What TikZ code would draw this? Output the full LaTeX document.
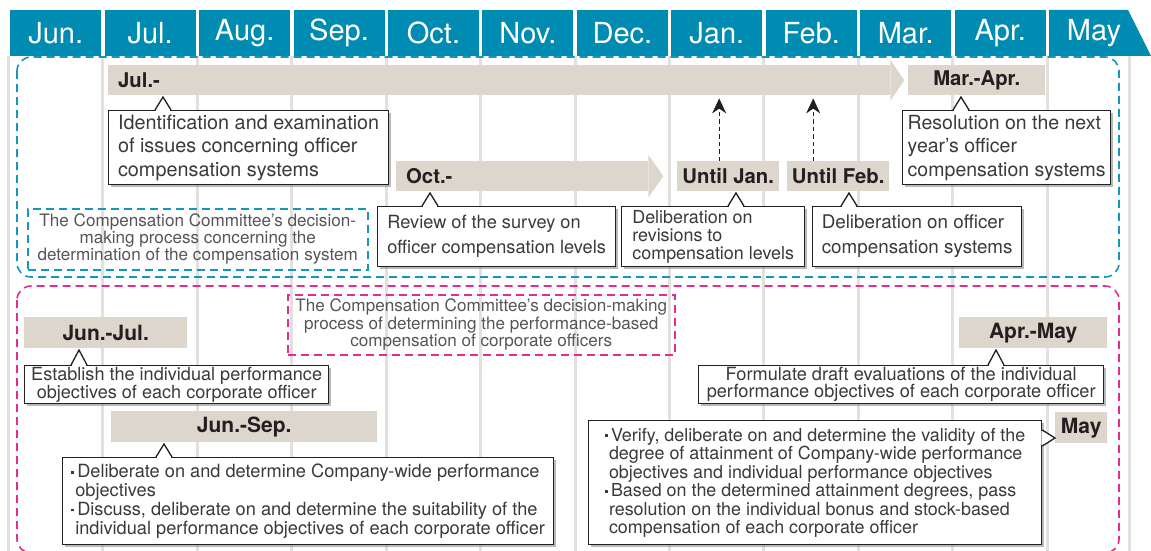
\documentclass[tikz,border=0pt]{standalone}
\usepackage{fontspec}
\setmainfont{TeX Gyre Heros}
\usetikzlibrary{positioning,shadows,arrows.meta}

\definecolor{hdrblue}{RGB}{0,140,178}
\definecolor{barbeige}{RGB}{221,214,204}
\definecolor{gridgray}{RGB}{228,224,221}
\definecolor{frameblue}{RGB}{20,150,190}
\definecolor{framepink}{RGB}{225,45,140}
\definecolor{inkdark}{RGB}{35,31,32}
\definecolor{inklight}{RGB}{58,58,58}
\definecolor{inkgray}{RGB}{85,85,85}

\newcommand{\fs}[2]{\fontsize{#1}{#2}\selectfont}
\newcommand{\bul}{\makebox[6pt][l]{\raisebox{4pt}{\rule{2.8pt}{2.8pt}}}}
\newcommand{\cont}{\hspace*{4pt}}
% pointer of a callout: #1 box node, #2 tip coordinate
\newcommand{\tipup}[2]{%
    \fill[white] ([xshift=-7.2pt,yshift=-1pt]#2 |- #1.north) -- (#2) -- ([xshift=7.2pt,yshift=-1pt]#2 |- #1.north) -- cycle;
    \draw[tipline] ([xshift=-8pt]#2 |- #1.north) -- (#2) -- ([xshift=8pt]#2 |- #1.north);}
\newcommand{\tipright}[2]{%
    \fill[white] ([xshift=-1pt,yshift=-7.2pt]#2 -| #1.east) -- (#2) -- ([xshift=-1pt,yshift=7.2pt]#2 -| #1.east) -- cycle;
    \draw[tipline] ([yshift=-8pt]#2 -| #1.east) -- (#2) -- ([yshift=8pt]#2 -| #1.east);}

\tikzset{
    month/.style={fill=hdrblue,text=white,font=\fs{29}{30},minimum width=91pt,minimum height=46pt,inner sep=0pt,anchor=north west},
    period/.style={fill=barbeige,text=inkdark,font=\bfseries\fs{20.3}{22},minimum height=30pt,inner sep=0pt,anchor=north west},
    callbox/.style={draw=inkdark,line width=1.3pt,fill=white,text=inklight,inner sep=0pt,anchor=north west,align=left,
        drop shadow={shadow xshift=2.5pt,shadow yshift=-2.5pt,fill=black!50,opacity=0.55}},
    tipline/.style={draw=inkdark,line width=1.3pt},
    tagbox/.style={dash pattern=on 8pt off 5pt,line width=1.5pt,text=inkgray,inner sep=0pt,anchor=north west,align=center},
    region/.style={dash pattern=on 8pt off 5pt,line width=1.6pt,rounded corners=14pt},
    gridline/.style={gridgray,line width=3pt},
    dasharrow/.style={inkdark,dash pattern=on 4.5pt off 3pt,line width=1.3pt,-{Stealth[length=15pt,width=14pt]}}
}

\begin{document}
\begin{tikzpicture}[x=1pt,y=-1pt]
        \useasboundingbox (0,0) rectangle (1151,551);
        \clip (0,0) rectangle (1151,551);
        \foreach \i in {0,...,11}
            \draw[gridline] ({8.3+94.45*\i},56) -- ++(0,495);
        \draw[gridline] (1129,56) -- (1129,551);
        \foreach \m [count=\i from 0] in {Jun.,Jul.,Aug.,Sep.,Oct.,Nov.,Dec.,Jan.,Feb.,Mar.,Apr.}
            \node[month] (m\i) at ({10+94.45*\i},10) {\m};
        \fill[hdrblue] (1049,10) -- (1128,10) -- (1151,56) -- (1049,56) -- cycle;
        \node[text=white,font=\fs{29}{30},inner sep=0pt] (m11) at (1094,33) {May};

        \draw[region,frameblue] (17,57) rectangle (1119,277);
        \draw[region,framepink] (17,286) rectangle (1119,553);
        \node[tagbox,draw=frameblue,minimum width=340pt,minimum height=61pt,font=\fs{17.1}{17}] (systag) at (27,208)
            {The Compensation Committee’s decision-\\making process concerning the\\determination of the compensation system};
        \node[tagbox,draw=framepink,minimum width=387pt,minimum height=60pt,font=\fs{17.1}{17.5}] (perftag) at (287,294)
            {The Compensation Committee’s decision-making\\process of determining the performance-based\\compensation of corporate officers};

        % compensation system
        \node[period,minimum width=782pt,text width=762pt,align=left] (julbar) at (108,65) {Jul.-};
        \fill[barbeige] ([yshift=5pt]julbar.north east) -- ([xshift=14pt]julbar.east) -- ([yshift=-5pt]julbar.south east) -- cycle;
        \node[period,minimum width=137pt] (marapr) at (908,65) {Mar.-Apr.};
        \node[period,minimum width=252pt,text width=232pt,align=left] (octbar) at (396,161) {Oct.-};
        \fill[barbeige] ([yshift=6pt]octbar.north east) -- ([xshift=15pt]octbar.east) -- ([yshift=-6pt]octbar.south east) -- cycle;
        \node[period,minimum width=102pt] (untiljan) at (677,161) {Until Jan.};
        \node[period,minimum width=102pt] (untilfeb) at (787,161) {Until Feb.};

        \node[callbox,minimum width=280pt,minimum height=74pt,font=\fs{19.8}{23.5}] (ident) at (108,110)
            {Identification and examination\\of issues concerning officer\\compensation systems};
        \node[callbox,minimum width=208pt,minimum height=74pt,font=\fs{19.5}{23.5}] (resol) at (902,110)
            {Resolution on the next\\year’s officer\\compensation systems};
        \node[callbox,minimum width=238pt,minimum height=60pt,font=\fs{18.2}{25}] (review) at (377,206)
            {Review of the survey on\\officer compensation levels};
        \node[callbox,minimum width=183pt,minimum height=60pt,font=\fs{17.9}{18}] (delrev) at (621,206)
            {Deliberation on\\revisions to\\compensation levels};
        \node[callbox,minimum width=209pt,minimum height=60pt,font=\fs{18.8}{25}] (delsys) at (812,206)
            {Deliberation on officer\\compensation systems};
        \coordinate (identtip) at (163,97);
        \coordinate (resoltip) at (961,97);
        \coordinate (reviewtip) at (430,193);
        \coordinate (delrevtip) at (736,193);
        \coordinate (delsystip) at (849,193);
        \tipup{ident}{identtip}
        \tipup{resol}{resoltip}
        \tipup{review}{reviewtip}
        \tipup{delrev}{delrevtip}
        \tipup{delsys}{delsystip}
        \draw[dasharrow] ([xshift=-9pt]untiljan.north) -- ([xshift=-9pt,yshift=-3pt]untiljan.north |- julbar.south);
        \draw[dasharrow] ([xshift=-25pt]untilfeb.north) -- ([xshift=-25pt,yshift=-3pt]untilfeb.north |- julbar.south);

        % performance-based compensation
        \node[period,font=\bfseries\fs{21}{22},minimum width=163pt,minimum height=31pt] (junjul) at (24,317) {Jun.-Jul.};
        \node[period,font=\bfseries\fs{21}{22},minimum width=266pt,minimum height=31pt] (junsep) at (111,411) {Jun.-Sep.};
        \node[period,font=\bfseries\fs{21}{22},minimum width=148pt,minimum height=31pt] (aprmay) at (959,317) {Apr.-May};
        \node[period,font=\bfseries\fs{21}{22},minimum width=52pt,minimum height=31pt] (may) at (1055,412) {May};

        \node[callbox,align=center,minimum width=304pt,minimum height=38pt,font=\fs{18.1}{17}] (establish) at (24,365)
            {Establish the individual performance\\objectives of each corporate officer};
        \node[callbox,minimum width=491pt,minimum height=87pt,font=\fs{18.2}{18.7}] (setobj) at (62,457)
            {\bul Deliberate on and determine Company-wide performance\\\cont objectives\\\bul Discuss, deliberate on and determine the suitability of the\\\cont individual performance objectives of each corporate officer};
        \node[callbox,align=center,minimum width=405pt,minimum height=38pt,font=\fs{18.2}{17}] (formulate) at (698,365)
            {Formulate draft evaluations of the individual\\performance objectives of each corporate officer};
        \node[callbox,minimum width=453pt,minimum height=124pt,font=\fs{17.9}{18.5}] (verify) at (588,420)
            {\bul Verify, deliberate on and determine the validity of the\\\cont degree of attainment of Company-wide performance\\\cont objectives and individual performance objectives\\\bul Based on the determined attainment degrees, pass\\\cont resolution on the individual bonus and stock-based\\\cont compensation of each corporate officer};
        \coordinate (establishtip) at (79,350);
        \coordinate (setobjtip) at (164,444);
        \coordinate (formulatetip) at (996,350);
        \coordinate (verifytip) at (1055,438);
        \tipup{establish}{establishtip}
        \tipup{setobj}{setobjtip}
        \tipup{formulate}{formulatetip}
        \tipright{verify}{verifytip}
\end{tikzpicture}
\end{document}
